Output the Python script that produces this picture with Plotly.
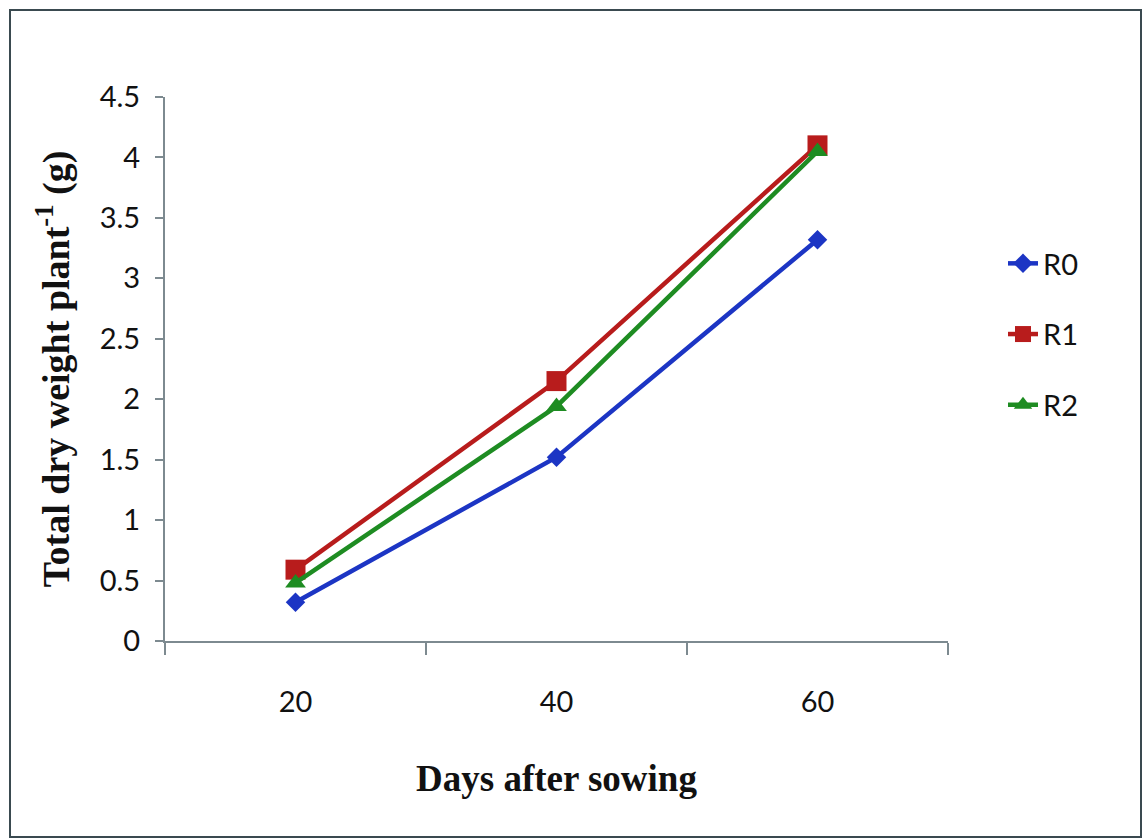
import plotly.graph_objects as go

days = ["20", "40", "60"]
r0 = [0.32, 1.52, 3.32]
r1 = [0.59, 2.15, 4.10]
r2 = [0.48, 1.94, 4.05]
y_ticks = [0, 0.5, 1, 1.5, 2, 2.5, 3, 3.5, 4, 4.5]
y_labels = ["0", "0.5", "1", "1.5", "2", "2.5", "3", "3.5", "4", "4.5"]

W, H = 1145, 840
L, R, T, B = 165, 197, 97, 199

fig = go.Figure()
series = [
    ("R0", r0, "#1c35c4", "diamond", 15),
    ("R1", r1, "#b81c1c", "square", 20),
    ("R2", r2, "#1e8c22", "triangle-up", 18),
]
for name, vals, col, sym, sz in series:
    fig.add_trace(go.Scatter(
        x=days, y=vals, name=name, mode="lines+markers",
        line=dict(color=col, width=4.5),
        marker=dict(symbol=sym, size=sz, color=col),
        legendgroup=name,
    ))

pw = W - L - R
ph = H - T - B
def px_to_paper_x(px):
    return (px - L) / pw
def py_to_paper_y(py):
    return 1 - (py - T) / ph

fig.add_shape(type="rect", xref="paper", yref="paper",
              x0=px_to_paper_x(10), x1=px_to_paper_x(1141),
              y0=py_to_paper_y(837), y1=py_to_paper_y(10),
              line=dict(color="#3a4a50", width=2), layer="below")

axis_col = "#7d8a90"
fig.update_layout(
    width=W, height=H,
    margin=dict(l=L, r=R, t=T, b=B),
    paper_bgcolor="white", plot_bgcolor="white",
    showlegend=True,
    legend=dict(x=px_to_paper_x(1003), y=py_to_paper_y(238), xanchor="left", yanchor="top",
                font=dict(family="Lato", size=29, color="#111"),
                tracegroupgap=30, bgcolor="rgba(0,0,0,0)"),
    xaxis=dict(
        type="category", range=[-0.5, 2.5],
        tickson="boundaries", ticks="outside", ticklen=12, tickcolor=axis_col, tickwidth=1.5,
        showline=True, linecolor=axis_col, linewidth=2, showgrid=False, zeroline=False,
        tickfont=dict(family="Lato", size=29, color="#111"),
        ticklabelstandoff=34,
        title=dict(text="<b>Days after sowing</b>",
                   font=dict(family="Liberation Serif", size=37, color="#111"), standoff=48),
    ),
    yaxis=dict(
        range=[0, 4.5], tickvals=y_ticks, ticktext=y_labels,
        ticks="outside", ticklen=8, tickcolor=axis_col, tickwidth=1.5,
        showline=True, linecolor=axis_col, linewidth=2, showgrid=False, zeroline=False,
        tickfont=dict(family="Lato", size=29, color="#111"),
        ticklabelstandoff=9,
        title=dict(text="<b>Total dry weight plant<sup>-1</sup> (g)</b>",
                   font=dict(family="Liberation Serif", size=38, color="#111"), standoff=18),
    ),
)

fig.write_html("out.html")
